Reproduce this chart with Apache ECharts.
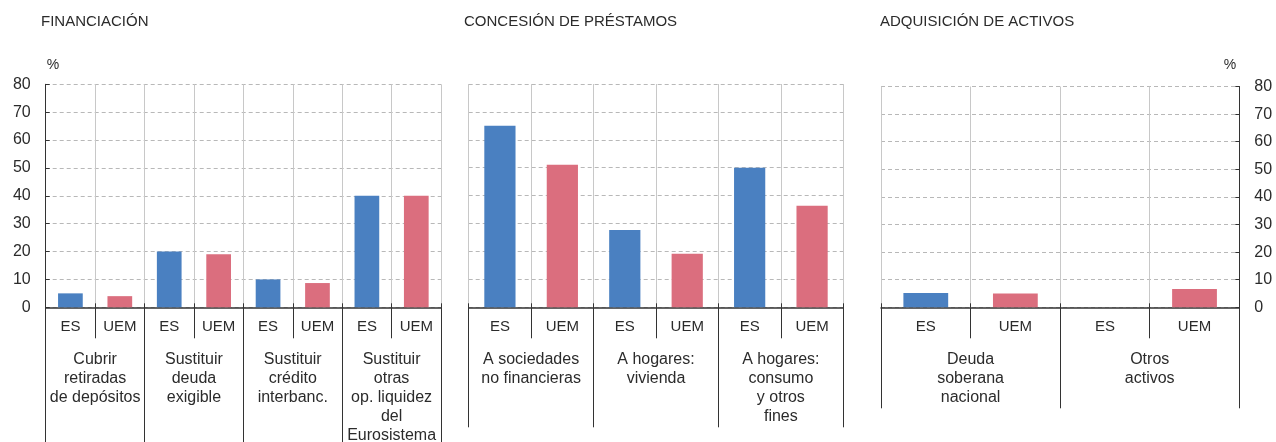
<!DOCTYPE html>
<html>
<head>
<meta charset="utf-8">
<script src="https://cdn.jsdelivr.net/npm/echarts@6/dist/echarts.min.js"></script>
<style>
  html, body { margin: 0; background: #fff; }
  #chart { width: 1276px; height: 442px; }
</style>
</head>
<body>
<div id="chart"></div>
<script>
// Data (%)
const panelTitles = ['FINANCIACIÓN', 'CONCESIÓN DE PRÉSTAMOS', 'ADQUISICIÓN DE ACTIVOS'];
const pairLabels = ['ES', 'UEM'];

const finGroups = ['Cubrir\nretiradas\nde depósitos', 'Sustituir\ndeuda\nexigible',
  'Sustituir\ncrédito\ninterbanc.', 'Sustituir\notras\nop. liquidez\ndel\nEurosistema'];
const finES = [5, 20, 10, 40];
const finUEM = [4, 19, 8.7, 40];

const presGroups = ['A sociedades\nno financieras', 'A hogares:\nvivienda',
  'A hogares:\nconsumo\ny otros\nfines'];
const presES = [65, 27.7, 50];
const presUEM = [51.1, 19.2, 36.4];

const actGroups = ['Deuda\nsoberana\nnacional', 'Otros\nactivos'];
const actES = [5.2, 0];
const actUEM = [5, 6.6];

const yMin = 0, yMax = 80, yStep = 10;

// Styling
const BLUE = '#4a80c1', PINK = '#db6e7e';
const TEXT = '#2b2b2b', AXIS = '#333333', GRID_V = '#c8c8c8', GRID_H = '#b8b8b8';
const FONT = '"Liberation Sans", Arial, Helvetica, sans-serif';

// Layout of the three panels (pixels)
const panels = [
  { groups: finGroups, es: finES, uem: finUEM, left: 45.7, top: 84.3, width: 395.3, yPos: 'left', yShow: true, sepLen: 140, nameGap: 12 },
  { groups: presGroups, es: presES, uem: presUEM, left: 468.7, top: 84, width: 374.6, yPos: 'left', yShow: false, sepLen: 120, nameGap: 12 },
  { groups: actGroups, es: actES, uem: actUEM, left: 881, top: 86.5, width: 358.3, yPos: 'right', yShow: true, sepLen: 101, nameGap: 14 },
];
const titleLefts = [41, 464, 880];
const BOTTOM = 307.3;

const grid = [], xAxis = [], yAxis = [], series = [];

panels.forEach((p, g) => {
  grid.push({ left: p.left, top: p.top, width: p.width, height: BOTTOM - p.top, outerBoundsMode: 'none', containLabel: false });

  const cats = [];
  const bars = [];
  p.groups.forEach((_, i) => {
    cats.push(pairLabels[0], pairLabels[1]);
    bars.push({ value: p.es[i], itemStyle: { color: BLUE } });
    bars.push({ value: p.uem[i], itemStyle: { color: PINK } });
  });

  // ES / UEM axis with short separators and vertical grid lines
  xAxis.push({
    type: 'category', gridIndex: g, data: cats, position: 'bottom',
    axisLine: { show: true, lineStyle: { color: AXIS, width: 1.5 } },
    axisTick: { show: true, interval: 0, length: 31, lineStyle: { color: AXIS } },
    axisLabel: { interval: 0, margin: 10, fontSize: 15, lineHeight: 19, color: TEXT, fontFamily: FONT },
    splitLine: { show: true, interval: 0, lineStyle: { color: GRID_V, width: 1 } },
  });
  // group axis: long separators and multi-line labels
  xAxis.push({
    type: 'category', gridIndex: g, data: p.groups, position: 'bottom',
    axisLine: { show: false },
    axisTick: { show: true, interval: 0, length: p.sepLen, lineStyle: { color: AXIS } },
    axisLabel: { interval: 0, margin: 43, fontSize: 16, lineHeight: 19, color: TEXT, fontFamily: FONT },
    splitLine: { show: false },
  });
  // small ticks above the baseline
  xAxis.push({
    type: 'category', gridIndex: g, data: cats, position: 'bottom',
    axisLine: { show: false },
    axisTick: { show: true, inside: true, interval: 0, length: 4, lineStyle: { color: AXIS } },
    axisLabel: { show: false },
    splitLine: { show: false },
  });

  yAxis.push({
    type: 'value', gridIndex: g, min: yMin, max: yMax, interval: yStep, position: p.yPos,
    axisLine: { show: p.yShow, lineStyle: { color: AXIS } },
    axisTick: { show: p.yShow, inside: true, length: 4, lineStyle: { color: AXIS } },
    axisLabel: { show: p.yShow, margin: 15, fontSize: 16, color: TEXT, fontFamily: FONT },
    splitLine: { show: true, lineStyle: { type: [4, 3], color: GRID_H } },
    name: p.yShow ? '%' : '', nameLocation: 'end', nameGap: p.nameGap,
    nameTextStyle: { fontSize: 14, color: TEXT, fontFamily: FONT, align: p.yPos === 'left' ? 'left' : 'right',
      padding: p.yPos === 'left' ? [0, 0, 0, 1] : [0, 3, 0, 0] },
  });

  series.push({
    type: 'bar', xAxisIndex: g * 3, yAxisIndex: g, data: bars, barWidth: '50%', silent: true,
  });
});

const chart = echarts.init(document.getElementById('chart'), null, { renderer: 'canvas' });
chart.setOption({
  animation: false,
  backgroundColor: '#fff',
  textStyle: { fontFamily: FONT },
  title: panelTitles.map((t, i) => ({
    text: t, left: titleLefts[i], top: 14, padding: 0,
    textStyle: { fontSize: 15, fontWeight: 'normal', color: TEXT, fontFamily: FONT },
  })),
  grid, xAxis, yAxis, series,
});
</script>
</body>
</html>
